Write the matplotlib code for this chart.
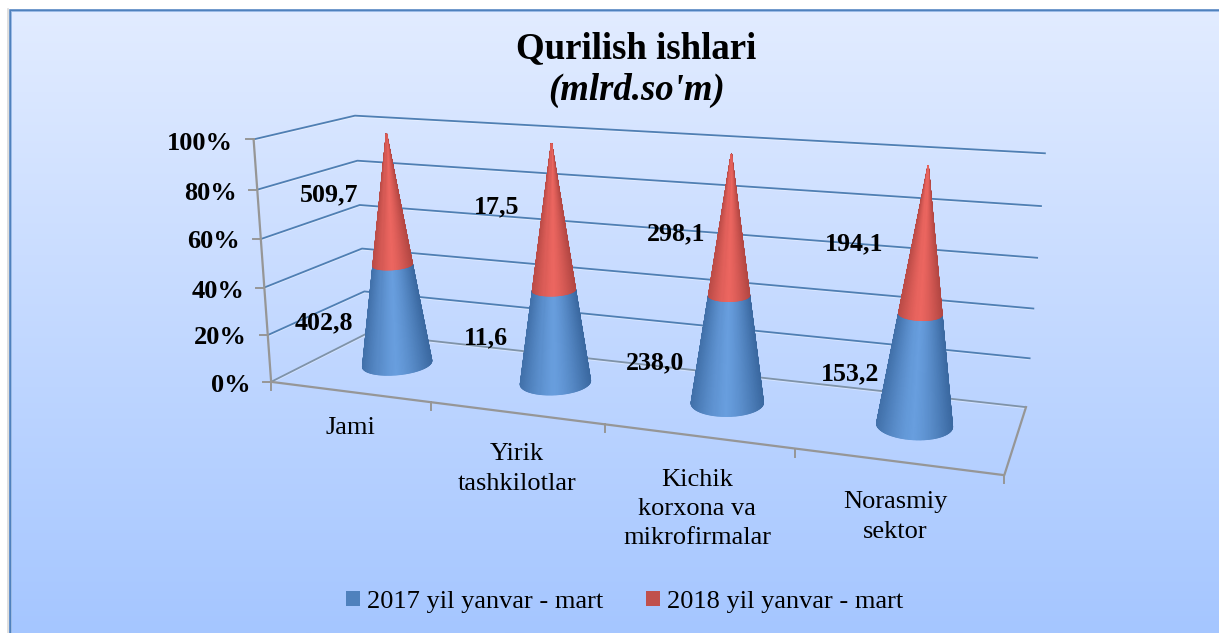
# ==========================================================
# QURILISH ISHLARI - 3D STACKED CONE CHART
# ==========================================================

import numpy as np
import matplotlib
matplotlib.use("Agg")
import matplotlib.pyplot as plt
from matplotlib.collections import PolyCollection
from matplotlib.patches import Patch

plt.rcParams["font.family"] = ["Liberation Serif", "DejaVu Serif"]

# ==========================================================
# DATA
# ==========================================================

categories = ["Jami", "Yirik\ntashkilotlar", "Kichik\nkorxona va\nmikrofirmalar", "Norasmiy\nsektor"]
values_2017 = [402.8, 11.6, 238.0, 153.2]
values_2018 = [509.7, 17.5, 298.1, 194.1]
labels_2017 = ["402,8", "11,6", "238,0", "153,2"]
labels_2018 = ["509,7", "17,5", "298,1", "194,1"]
percent_ticks = [0, 20, 40, 60, 80, 100]
series_names = ["2017 yil yanvar - mart", "2018 yil yanvar - mart"]

# ==========================================================
# LAYOUT (pixels of the picture)
# ==========================================================

W, H = 1219, 633

# box corners measured on the picture: (category, depth, percent) -> pixel
camera_points = [
    (0, 0, 0, 273, 381), (0, 0, 20, 268, 334), (0, 0, 40, 263, 288),
    (0, 0, 60, 260, 238), (0, 0, 80, 256, 190), (0, 0, 100, 254, 140),
    (0, 1, 0, 364, 335), (0, 1, 20, 365, 291), (0, 1, 40, 363, 248),
    (0, 1, 60, 360, 205), (0, 1, 80, 357, 161), (0, 1, 100, 356, 116),
    (4, 1, 0, 1026, 407), (4, 1, 20, 1030, 358), (4, 1, 40, 1033, 308),
    (4, 1, 60, 1037, 258), (4, 1, 80, 1041, 206), (4, 1, 100, 1045, 153),
    (4, 0, 0, 1004, 475), (1, 0, 0, 432, 402), (2, 0, 0, 605, 425),
    (3, 0, 0, 795, 450),
]

cone_radius_u = 0.19
cone_radius_v = 0.215
cone_offset = 0.49
cone_depth = 0.53
cone_top = 98.5

tick_label_pos = [(251, 385), (247, 338), (244, 291), (240, 242), (237, 193), (233, 144)]
label_2017_pos = [(324, 323), (486, 338), (655, 363), (850, 374)]
label_2018_pos = [(329, 195), (497, 207), (676, 234), (854, 244)]
category_pos = [(350, 428), (517, 469), (697, 509), (895, 517)]


# ==========================================================
# PROJECTION FITTED TO THE BOX
# ==========================================================

A = []
b = []
for u, v, h, px, py in camera_points:
    A.append([u, v, h, 1, 0, 0, 0, 0, -u * px, -v * px, -h * px])
    b.append(px)
    A.append([0, 0, 0, 0, u, v, h, 1, -u * py, -v * py, -h * py])
    b.append(py)

p = np.linalg.lstsq(np.array(A, dtype=float), np.array(b, dtype=float), rcond=None)[0]
P = np.append(p, 1.0).reshape(3, 4)


def project(u, v, h):
    u, v, h = np.broadcast_arrays(u, v, h)
    pts = np.stack([u, v, h, np.ones_like(u, dtype=float)], axis=-1) @ P.T
    return pts[..., 0] / pts[..., 2], pts[..., 1] / pts[..., 2]


# ==========================================================
# CANVAS
# ==========================================================

fig = plt.figure(figsize=(W / 100, H / 100), dpi=100)
ax = fig.add_axes([0, 0, 1, 1])

top = np.array([226, 236, 255]) / 255
bottom = np.array([165, 198, 255]) / 255
t = np.linspace(0, 1, 256)[:, None, None]
ax.imshow(top + (bottom - top) * t, extent=[9, W, H, 9], aspect="auto", zorder=0)

ax.set_xlim(0, W)
ax.set_ylim(H, 0)
ax.axis("off")

# frame
ax.plot([7.5, 7.5], [9, H], color="#d9d9d9", lw=1.2, zorder=1)
ax.plot([9.5, 9.5, W], [H, 9.5, 9.5], color="#4f81bd", lw=1.8, zorder=1, solid_joinstyle="miter")
ax.plot([11, 11, W], [H, 11, 11], color="#9dbce6", lw=0.7, zorder=1)

# ==========================================================
# WALLS AND AXES
# ==========================================================

GRID = "#4f7fb3"
AXIS = "#969696"

for h in percent_ticks:
    color = "#7f93a8" if h == 0 else GRID
    x, y = project([0, 0, 4], [0, 1, 1], [h, h, h])
    ax.plot(x, y + 1.2, color="#ffffff", alpha=0.35, lw=1.0, zorder=2)
    ax.plot(x, y, color=color, lw=1.3, zorder=3)

    # tick of the percent axis
    x0, y0 = project(0, 0, h)
    ax.plot([x0 - 8, x0], [y0, y0], color=AXIS, lw=1.4, zorder=4)

x, y = project([0, 0], [0, 0], [0, 100])
ax.plot(x, y, color=AXIS, lw=1.6, zorder=4)

x, y = project([0, 4, 4], [0, 0, 1], [0, 0, 0])
ax.plot(x, y, color=AXIS, lw=1.6, zorder=4)

for i in range(len(categories) + 1):
    x0, y0 = project(i, 0, 0)
    ax.plot([x0, x0], [y0, y0 + 8], color=AXIS, lw=1.4, zorder=4)


# ==========================================================
# CONES
# ==========================================================

def shade(frac, edge, mid):
    # dark at the silhouette, light just left of the middle
    k = 1 - np.abs((frac - 0.47) / 0.53) ** 1.35
    k = np.clip(k, 0, 1)
    return np.array(edge) / 255 + (np.array(mid) - np.array(edge)) / 255 * k


BLUE_EDGE, BLUE_MID = (58, 104, 160), (104, 158, 222)
RED_EDGE, RED_MID = (178, 70, 66), (236, 102, 96)

theta = np.linspace(0, 2 * np.pi, 181)

for i in range(len(categories)):
    split = cone_top * values_2017[i] / (values_2017[i] + values_2018[i])
    cu, cv = i + cone_offset, cone_depth

    def ring(h):
        scale = 1 - h / cone_top
        return project(cu + cone_radius_u * scale * np.cos(theta),
                       cv + cone_radius_v * scale * np.sin(theta),
                       np.full_like(theta, h))

    bx, by = ring(0)
    sx, sy = ring(split)
    tx, ty = project(cu, cv, cone_top)

    xmin, xmax = bx.min(), bx.max()
    frac = (bx - xmin) / (xmax - xmin)

    # back facets first, so the facing side stays on top
    order = np.argsort(-np.sin(theta[:-1] + np.pi / 180))

    for lo, hi, edge, mid in [((bx, by), (sx, sy), BLUE_EDGE, BLUE_MID),
                              ((sx, sy), (np.full_like(sx, tx), np.full_like(sy, ty)), RED_EDGE, RED_MID)]:
        polys = []
        colors = []
        for k in order:
            polys.append([(lo[0][k], lo[1][k]), (lo[0][k + 1], lo[1][k + 1]),
                          (hi[0][k + 1], hi[1][k + 1]), (hi[0][k], hi[1][k])])
            colors.append(shade((frac[k] + frac[k + 1]) / 2, edge, mid))
        ax.add_collection(PolyCollection(polys, facecolors=colors, edgecolors=colors,
                                         linewidths=0.9, zorder=5))

# ==========================================================
# TEXT
# ==========================================================

ax.text(636.5, 58, "Qurilish ishlari", fontsize=26.6, fontweight="bold",
        ha="center", va="baseline", zorder=7)
ax.text(636.5, 100, "(mlrd.so'm)", fontsize=26.5, fontweight="bold", fontstyle="italic",
        ha="center", va="baseline", zorder=7)

for h, (x, y) in zip(percent_ticks, tick_label_pos):
    ax.text(x, y, f"{h}%", fontsize=19, fontweight="bold", ha="right", va="center", zorder=7)

for text, (x, y) in zip(labels_2017 + labels_2018, label_2017_pos + label_2018_pos):
    ax.text(x, y, text, fontsize=18.6, fontweight="bold", ha="center", va="center", zorder=7)

for name, (x, y) in zip(categories, category_pos):
    ax.text(x, y, name, fontsize=19, ha="center", va="center", linespacing=1.42, zorder=7)

handles = [Patch(facecolor="#4f81bd", edgecolor="none", label=series_names[0]),
           Patch(facecolor="#c0504d", edgecolor="none", label=series_names[1])]

ax.legend(handles=handles, ncol=2, loc="center", bbox_to_anchor=(624.5, 602),
          bbox_transform=ax.transData, frameon=False, fontsize=19, borderpad=0,
          handlelength=0.53, handleheight=0.53, handletextpad=0.25, columnspacing=1.63)

fig.savefig("out.png", dpi=100)
